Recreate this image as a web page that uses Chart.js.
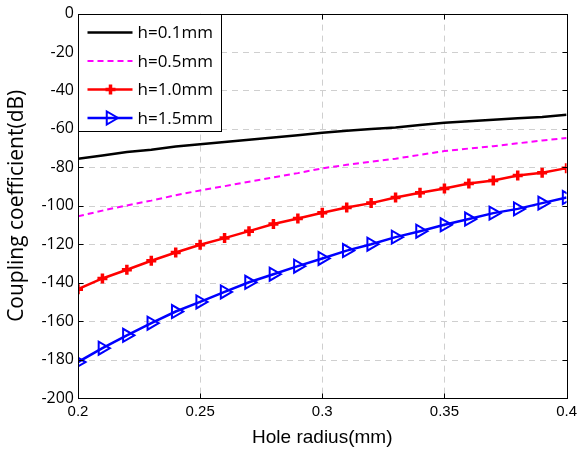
<!DOCTYPE html>
<html>
<head>
<meta charset="utf-8">
<script src="https://cdn.jsdelivr.net/npm/chart.js@4"></script>
<style>
  html, body { margin: 0; padding: 0; background: #fff; }
  #wrap { width: 582px; height: 452px; }
</style>
</head>
<body>
<div id="wrap"><canvas id="chart" width="582" height="452"></canvas></div>
<script>
// DATA
const radius = [0.20, 0.21, 0.22, 0.23, 0.24, 0.25, 0.26, 0.27, 0.28, 0.29, 0.30,
                0.31, 0.32, 0.33, 0.34, 0.35, 0.36, 0.37, 0.38, 0.39, 0.40];
const h01 = [-75.5, -73.8, -72.0, -70.8, -69.2, -68.0, -66.8, -65.6, -64.5, -63.3, -62.0,
             -61.0, -60.0, -59.3, -58.0, -56.8, -56.0, -55.2, -54.5, -53.8, -52.6];
const h05 = [-105.5, -102.5, -99.8, -97.3, -94.5, -92.0, -89.8, -87.5, -85.2, -83.0, -80.5,
             -78.7, -77.0, -75.5, -73.5, -71.5, -70.2, -69.0, -67.5, -66.0, -64.7];
const h10 = [-143.4, -137.8, -133.3, -128.6, -124.3, -120.3, -116.8, -113.2, -109.5, -106.6, -103.6,
             -100.9, -98.6, -95.7, -93.2, -91.0, -88.4, -86.8, -84.2, -82.8, -80.4];
const h15 = [-181.3, -174.1, -167.4, -161.1, -155.0, -150.0, -144.8, -139.8, -135.6, -131.4, -127.4,
             -123.3, -120.0, -116.3, -113.2, -109.9, -106.9, -103.8, -101.6, -98.6, -95.7];
const seriesNames = ["h=0.1mm", "h=0.5mm", "h=1.0mm", "h=1.5mm"];
const xTicks = [0.2, 0.25, 0.3, 0.35, 0.4];
const yTicks = [0, -20, -40, -60, -80, -100, -120, -140, -160, -180, -200];

function pts(arr) {
    return arr.map((v, i) => ({ x: radius[i], y: v }));
}

// grid, box, inward ticks
const frame = {
    id: "frame",
    beforeDatasetsDraw(c) {
        let a = c.chartArea, ctx = c.ctx;
        let xs = c.scales.x, ys = c.scales.y;
        ctx.save();
        ctx.strokeStyle = "#cfcfcf";
        ctx.lineWidth = 1;
        ctx.setLineDash([6, 5]);
        xTicks.slice(1, -1).forEach(t => {
            let x = Math.round(xs.getPixelForValue(t)) + 0.5;
            ctx.beginPath(); ctx.moveTo(x, a.top); ctx.lineTo(x, a.bottom); ctx.stroke();
        });
        yTicks.slice(1, -1).forEach(t => {
            let y = Math.round(ys.getPixelForValue(t)) + 0.5;
            ctx.beginPath(); ctx.moveTo(a.left, y); ctx.lineTo(a.right, y); ctx.stroke();
        });
        ctx.restore();
    },
    afterDatasetsDraw(c) {
        let a = c.chartArea, ctx = c.ctx;
        let xs = c.scales.x, ys = c.scales.y;
        ctx.save();
        ctx.strokeStyle = "#000";
        ctx.lineWidth = 1;
        let L = Math.round(a.left) + 0.5, R = Math.round(a.right) + 0.5;
        let T = Math.round(a.top) + 0.5, B = Math.round(a.bottom) + 0.5;
        ctx.strokeRect(L, T, R - L, B - T);
        ctx.beginPath();
        xTicks.forEach(t => {
            let x = Math.round(xs.getPixelForValue(t)) + 0.5;
            ctx.moveTo(x, B); ctx.lineTo(x, B - 5);
            ctx.moveTo(x, T); ctx.lineTo(x, T + 5);
        });
        yTicks.forEach(t => {
            let y = Math.round(ys.getPixelForValue(t)) + 0.5;
            ctx.moveTo(L, y); ctx.lineTo(L + 5, y);
            ctx.moveTo(R, y); ctx.lineTo(R - 5, y);
        });
        ctx.stroke();

        // legend box
        let lx = L, ly = T, lw = 143, lh = 117;
        ctx.fillStyle = "#fff";
        ctx.fillRect(lx, ly, lw, lh);
        ctx.strokeRect(lx, ly, lw, lh);
        c.data.datasets.forEach((ds, i) => {
            let y = ly + 18 + i * 28.5;
            ctx.save();
            ctx.strokeStyle = ds.borderColor;
            ctx.lineWidth = ds.borderWidth;
            ctx.setLineDash(ds.borderDash || []);
            ctx.beginPath(); ctx.moveTo(lx + 9, y); ctx.lineTo(lx + 54, y); ctx.stroke();
            ctx.setLineDash([]);
            if (ds.pointRadius > 0) {
                ctx.strokeStyle = ds.pointBorderColor;
                ctx.fillStyle = ds.pointBackgroundColor;
                ctx.lineWidth = ds.pointBorderWidth;
                Chart.helpers.drawPoint(ctx, {
                    pointStyle: ds.pointStyle,
                    rotation: ds.pointRotation || 0,
                    radius: ds.pointRadius,
                    borderWidth: ds.pointBorderWidth
                }, lx + 32, y);
            }
            ctx.restore();
            ctx.fillStyle = "#000";
            ctx.font = "17px 'Open Sans'";
            ctx.textBaseline = "middle";
            ctx.fillText(ds.label, lx + 59, y + 1);
        });
        ctx.restore();
    }
};

let chart = new Chart(document.getElementById("chart"), {
    type: "line",
    data: {
        datasets: [
            { label: seriesNames[0], data: pts(h01), borderColor: "#000", borderWidth: 2.5, pointRadius: 0 },
            { label: seriesNames[1], data: pts(h05), borderColor: "#ff00ff", borderWidth: 2, borderDash: [6, 4], pointRadius: 0 },
            { label: seriesNames[2], data: pts(h10), borderColor: "#ff0000", borderWidth: 2.5,
              pointStyle: "cross", pointRadius: 5, pointBorderWidth: 3.5,
              pointBorderColor: "#ff0000", pointBackgroundColor: "#ff0000" },
            { label: seriesNames[3], data: pts(h15), borderColor: "#0000ff", borderWidth: 2.5,
              pointStyle: "triangle", pointRotation: 90, pointRadius: 7.5, pointBorderWidth: 2,
              pointBorderColor: "#0000ff", pointBackgroundColor: "rgba(0,0,0,0)" }
        ]
    },
    options: {
        responsive: false,
        animation: false,
        layout: { padding: { top: 13, right: 12, left: 0, bottom: 0 } },
        plugins: { legend: { display: false }, tooltip: { enabled: false } },
        elements: { line: { tension: 0 } },
        scales: {
            x: {
                type: "linear", min: 0.2, max: 0.4,
                afterBuildTicks: s => { s.ticks = xTicks.map(v => ({ value: v })); },
                afterFit: s => { s.height = 54; },
                grid: { display: false, drawTicks: false },
                border: { display: false },
                ticks: { color: "#000", padding: 5, maxRotation: 0, font: { family: "Liberation Sans", size: 15 },
                         callback: v => String(v) },
                title: { display: true, text: "Hole radius(mm)", color: "#000",
                         font: { family: "Liberation Sans", size: 19 }, padding: { top: 0, bottom: 3 } }
            },
            y: {
                min: -200, max: 0,
                afterBuildTicks: s => { s.ticks = yTicks.map(v => ({ value: v })); },
                afterFit: s => { s.width = 78; },
                grid: { display: false, drawTicks: false },
                border: { display: false },
                ticks: { color: "#000", padding: 4, font: { family: "Open Sans", size: 16 } },
                title: { display: true, text: "Coupling coefficient(dB)", color: "#000",
                         font: { family: "Open Sans", size: 21 }, padding: { top: 4, bottom: 0 } }
            }
        }
    },
    plugins: [frame]
});
</script>
</body>
</html>
